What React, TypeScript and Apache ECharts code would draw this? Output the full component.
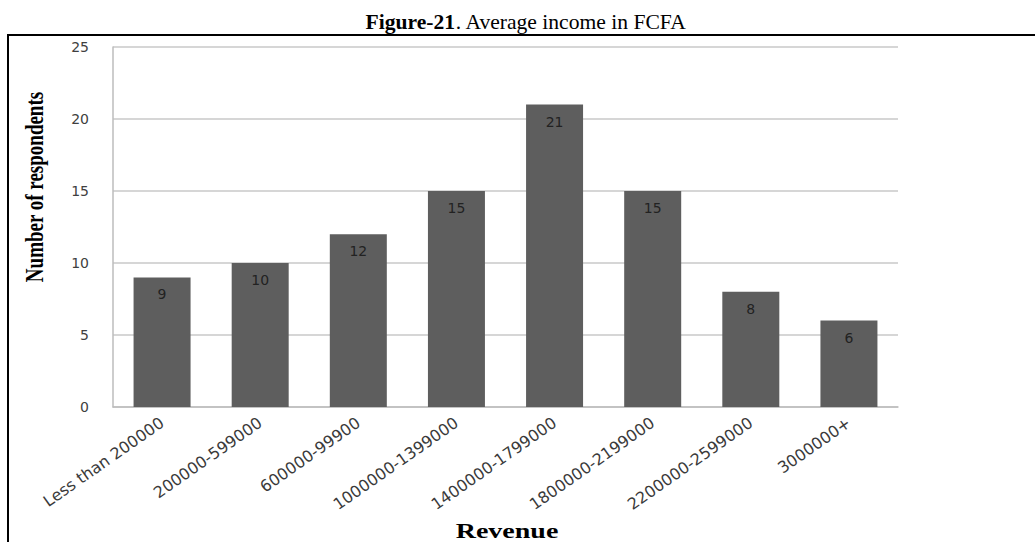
import React, { useEffect, useRef } from "react";
import * as echarts from "echarts";

const categories = [
  "Less than 200000",
  "200000-599000",
  "600000-99900",
  "1000000-1399000",
  "1400000-1799000",
  "1800000-2199000",
  "2200000-2599000",
  "3000000+",
];
const respondents = [9, 10, 12, 15, 21, 15, 8, 6];
const yTicks = { min: 0, max: 25, interval: 5 };

const tickFont = "'DejaVu Sans', Verdana, sans-serif";
const serifFont = "'Liberation Serif', 'Times New Roman', serif";

export default function App() {
  const ref = useRef<HTMLDivElement>(null);

  useEffect(() => {
    document.body.style.margin = "0";
    if (!ref.current) return;
    const chart = echarts.init(ref.current, null, { renderer: "svg" });
    chart.setOption({
      animation: false,
      backgroundColor: "#ffffff",
      grid: { left: 113, right: 137, top: 47, bottom: 135, containLabel: false },
      xAxis: {
        type: "category",
        data: categories,
        axisLine: { show: true, lineStyle: { color: "#bdbdbd", width: 1.5 } },
        axisTick: { show: false },
        axisLabel: {
          rotate: 35,
          interval: 0,
          margin: 14,
          fontFamily: tickFont,
          fontSize: 16,
          color: "#3a3a3a",
        },
      },
      yAxis: {
        type: "value",
        min: yTicks.min,
        max: yTicks.max,
        interval: yTicks.interval,
        axisLine: { show: true, lineStyle: { color: "#bdbdbd", width: 1.5 } },
        axisTick: { show: false },
        axisLabel: {
          margin: 24,
          fontFamily: tickFont,
          fontSize: 14,
          color: "#404040",
        },
        splitLine: { show: true, lineStyle: { color: "#c8c8c8", width: 1.5 } },
      },
      series: [
        {
          type: "bar",
          data: respondents,
          barWidth: 57,
          itemStyle: { color: "#5e5e5e" },
          label: {
            show: true,
            position: "insideTop",
            distance: 10,
            fontFamily: tickFont,
            fontSize: 14,
            color: "#222222",
          },
        },
      ],
      graphic: [
        {
          type: "rect",
          shape: { x: 8, y: 35, width: 1200, height: 700 },
          style: { fill: "none", stroke: "#000", lineWidth: 2 },
          silent: true,
        },
        {
          type: "text",
          x: 526,
          y: 22,
          style: {
            text: "{b|Figure-21}{n|. Average income in FCFA}",
            align: "center",
            verticalAlign: "middle",
            rich: {
              b: { fontFamily: serifFont, fontWeight: "bold", fontSize: 20, fill: "#000" },
              n: { fontFamily: serifFont, fontWeight: "normal", fontSize: 20, fill: "#000" },
            },
          },
          scaleX: 1.08,
        },
        {
          type: "text",
          x: 34,
          y: 187,
          rotation: Math.PI / 2,
          scaleY: 1.35,
          style: {
            text: "Number of respondents",
            font: `bold 19px ${serifFont}`,
            fill: "#000",
            align: "center",
            verticalAlign: "middle",
          },
        },
        {
          type: "text",
          x: 507,
          y: 531,
          scaleX: 1.4,
          style: {
            text: "Revenue",
            font: `bold 20px ${serifFont}`,
            fill: "#000",
            align: "center",
            verticalAlign: "middle",
          },
        },
      ],
    });
    return () => chart.dispose();
  }, []);

  return <div ref={ref} style={{ width: 1035, height: 542 }} />;
}
